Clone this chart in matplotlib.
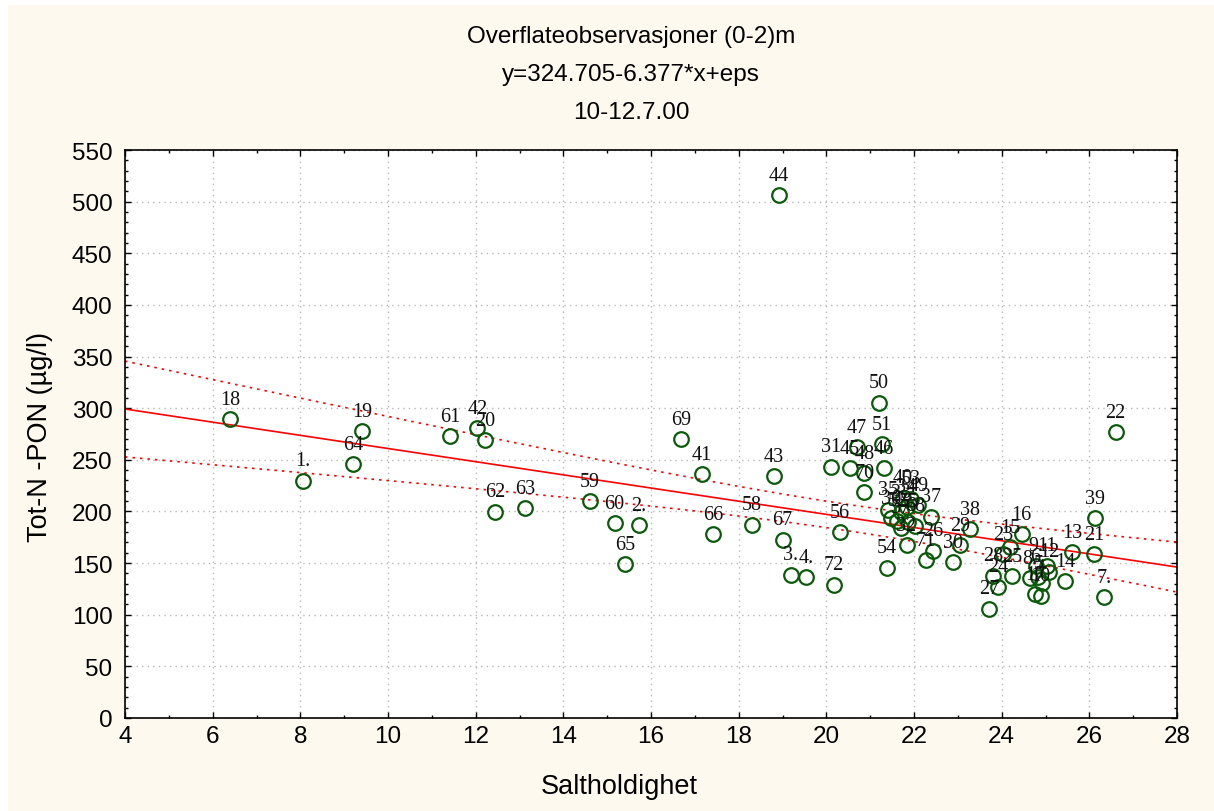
import numpy as np
import matplotlib

matplotlib.use("Agg")
import matplotlib.pyplot as plt
from matplotlib.patches import Rectangle
from matplotlib.ticker import MultipleLocator

# station labels, salinity and Tot-N -PON
labels = ["1.", "2.", "3.", "4.", "7.", "13", "14", "15", "16", "18",
          "19", "20", "21", "22", "23", "24", "25", "26", "27", "28",
          "29", "30", "31", "37", "38", "39", "41", "42", "43", "44",
          "46", "47", "48", "50", "51", "54", "56", "58", "59", "60",
          "61", "62", "63", "64", "65", "66", "67", "69", "70", "72",
          "5.", "6.", "8.", "9.", "10", "11", "12", "17",
          "32", "33", "34", "35", "36", "40", "45", "49", "52", "53",
          "55", "57", "68", "71"]
salinity = [8.05, 15.73, 19.19, 19.54, 26.34, 25.60, 25.45, 24.20, 24.46, 6.40,
            9.41, 12.22, 26.11, 26.60, 24.04, 23.92, 24.23, 22.44, 23.72, 23.81,
            23.05, 22.89, 20.11, 22.39, 23.28, 26.14, 17.16, 12.04, 18.81, 18.92,
            21.32, 20.70, 20.87, 21.20, 21.26, 21.38, 20.31, 18.30, 14.61, 15.17,
            11.42, 12.44, 13.13, 9.21, 15.40, 17.42, 19.00, 16.69, 20.87, 20.17,
            24.91, 24.83, 24.65, 24.78, 24.89, 25.03, 25.09, 24.76,
            21.83, 21.71, 21.83, 21.40, 21.48, 21.74, 20.54, 22.10, 21.62, 21.93,
            21.87, 21.71, 22.02, 22.27]
totn = [229.8, 186.9, 138.8, 136.1, 116.8, 160.4, 132.3, 165.2, 178.2, 289.5,
        277.6, 269.2, 158.8, 276.6, 158.8, 127.3, 137.1, 162.0, 106.0, 137.8,
        167.5, 151.0, 243.4, 195.0, 183.0, 193.3, 236.0, 280.8, 234.3, 506.4,
        241.6, 262.0, 237.0, 305.3, 265.3, 145.5, 179.8, 187.2, 209.8, 188.8,
        272.8, 199.8, 203.4, 246.0, 149.1, 177.9, 172.7, 270.2, 218.8, 129.1,
        130.7, 137.0, 135.1, 147.5, 118.4, 147.5, 141.7, 120.0,
        167.5, 199.0, 204.7, 201.7, 193.2, 213.5, 241.6, 206.0, 191.0, 212.5,
        190.0, 184.4, 186.2, 153.0]

INTERCEPT = 324.705
SLOPE = -6.377

x = np.array(salinity)
y = np.array(totn)

# 95% confidence band around the stated fit
n = len(x)
resid = y - (INTERCEPT + SLOPE * x)
s = np.sqrt(np.sum(resid ** 2) / (n - 2))
sxx = np.sum((x - x.mean()) ** 2)
xf = np.linspace(4, 28, 200)
yf = INTERCEPT + SLOPE * xf
half = 1.994 * s * np.sqrt(1.0 / n + (xf - x.mean()) ** 2 / sxx)

cream = "#fdf9ee"
fig = plt.figure(figsize=(12.14, 8.12), dpi=100)
fig.patch.set_facecolor("white")
fig.patches.append(Rectangle((8 / 1214, 0), 1, 806 / 812, transform=fig.transFigure,
                             facecolor=cream, edgecolor="none", zorder=-10))

ax = fig.add_axes([125 / 1214, 93 / 812, 1052 / 1214, 568 / 812])
ax.set_facecolor("white")

ax.plot(xf, yf, color="red", lw=1.2, zorder=2)
ax.plot(xf, yf + half, color="red", lw=1.2, ls=(0, (1.5, 3)), zorder=2)
ax.plot(xf, yf - half, color="red", lw=1.2, ls=(0, (1.5, 3)), zorder=2)

ax.plot(x, y, "o", ms=10.5, mfc="none", mec="#0a5a0a", mew=1.6, zorder=3)
for lab, xi, yi in zip(labels, x, y):
    ax.annotate(lab, (xi, yi), xytext=(0, 7.5), textcoords="offset points",
                ha="center", va="bottom", fontsize=14.5,
                family="Liberation Serif", color="#111111", zorder=4)

ax.set_xlim(4, 28)
ax.set_ylim(0, 550)
ax.xaxis.set_major_locator(MultipleLocator(2))
ax.xaxis.set_minor_locator(MultipleLocator(1))
ax.yaxis.set_major_locator(MultipleLocator(50))
ax.yaxis.set_minor_locator(MultipleLocator(10))
ax.tick_params(which="both", direction="in", top=True, right=True,
               labelsize=17.5, width=1.0, colors="black")
ax.tick_params(which="major", length=4)
ax.tick_params(which="minor", length=2.5)
ax.tick_params(axis="y", pad=9)
ax.tick_params(axis="x", pad=5)
for lab in ax.get_xticklabels() + ax.get_yticklabels():
    lab.set_family("Liberation Sans")
ax.grid(True, which="major", color="#b8b8b8", ls=(0, (1, 3)), lw=1.0)
for sp in ax.spines.values():
    sp.set_linewidth(1.2)

fig.text(0.52, 1 - 37 / 812, "Overflateobservasjoner (0-2)m", ha="center", va="center",
         fontsize=17.5, family="Liberation Sans")
fig.text(0.52, 1 - 75 / 812, "y=324.705-6.377*x+eps", ha="center", va="center",
         fontsize=17.5, family="Liberation Sans")
fig.text(0.52, 1 - 113 / 812, "10-12.7.00", ha="center", va="center",
         fontsize=17.5, family="Liberation Sans")
fig.text(619 / 1214, 1 - 787 / 812, "Saltholdighet", ha="center", va="center",
         fontsize=19.5, family="Liberation Sans")
fig.text(40 / 1214, 1 - 437 / 812, "Tot-N -PON (µg/l)", ha="center", va="center",
         rotation=90, fontsize=19.5, family="Liberation Sans")

fig.savefig("out.png", dpi=100, facecolor=fig.get_facecolor())
